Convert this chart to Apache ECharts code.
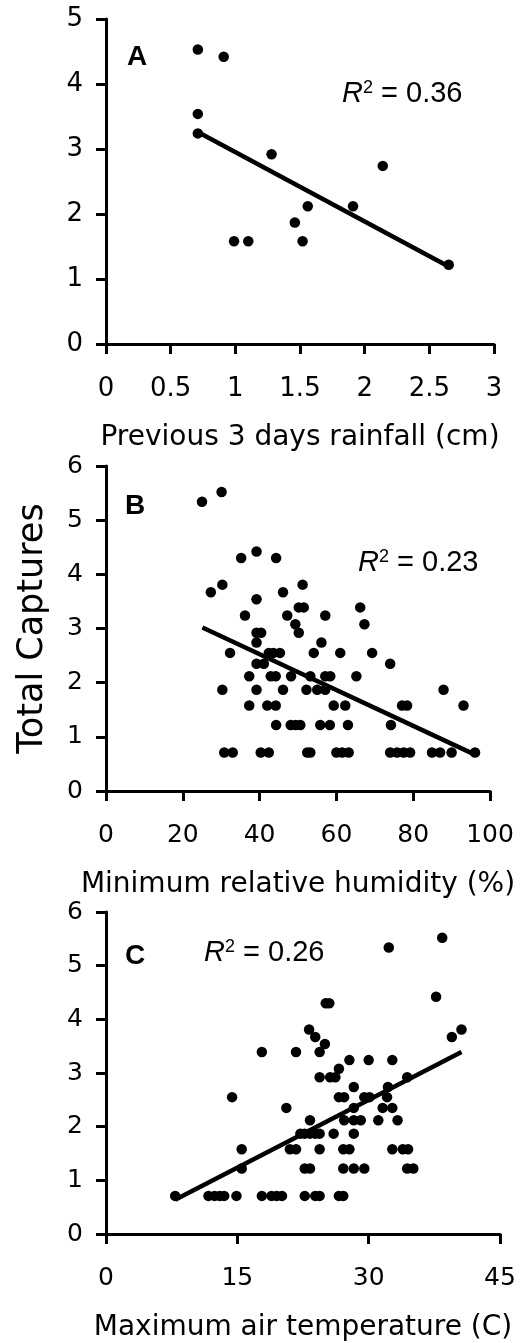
<!DOCTYPE html>
<html>
<head>
<meta charset="utf-8">
<script src="https://cdn.jsdelivr.net/npm/echarts@6/dist/echarts.min.js"></script>
<style>
    html, body { margin: 0; padding: 0; background: #fff; }
    #main { width: 529px; height: 1343px; }
</style>
</head>
<body>
<div id="main"></div>
<script>
// A: previous 3 days rainfall (cm)
var rainfall = [0.71, 0.91, 0.71, 0.71, 1.28, 2.14, 1.56, 1.91, 1.46, 0.99, 1.10, 1.52, 2.65];
var capturesA = [4.53, 4.42, 3.54, 3.24, 2.92, 2.74, 2.12, 2.12, 1.87, 1.58, 1.58, 1.58, 1.22];
var trendA = [[0.71, 3.26], [2.66, 1.18]];

// B: minimum relative humidity (%)
var humidity = [
    30.1, 25.0, 39.2, 35.2, 44.3,
    30.3, 51.2, 27.3, 46.1, 39.2,
    50.2, 51.5, 66.2, 36.2, 47.2, 57.1,
    49.3, 67.3, 39.2, 40.4, 50.2, 39.2, 56.1,
    32.3, 42.4, 43.6, 45.3, 54.1, 61.0, 69.3,
    39.2, 41.1, 74.0,
    37.3, 42.9, 44.2, 48.2, 53.2, 57.1, 58.4, 65.2,
    30.3, 39.2, 46.1, 52.2, 55.0, 57.1, 87.9,
    37.3, 42.0, 44.2, 59.3, 62.3, 77.1, 78.4, 93.1,
    44.3, 48.1, 49.4, 50.6, 55.8, 58.3, 63.0, 74.2,
    30.8, 33.0, 40.3, 42.4, 52.4, 53.2, 60.0, 61.5, 63.2, 74.0, 75.8, 77.5, 79.2, 84.9, 87.0, 90.0, 96.1
];
var capturesB = [
    5.52, 5.34, 4.42, 4.30, 4.30,
    3.81, 3.81, 3.67, 3.67, 3.54,
    3.39, 3.39, 3.39, 3.24, 3.24, 3.24,
    3.08, 3.08, 2.92, 2.92, 2.92, 2.74, 2.74,
    2.55, 2.55, 2.55, 2.55, 2.55, 2.55, 2.55,
    2.35, 2.35, 2.35,
    2.12, 2.12, 2.12, 2.12, 2.12, 2.12, 2.12, 2.12,
    1.87, 1.87, 1.87, 1.87, 1.87, 1.87, 1.87,
    1.58, 1.58, 1.58, 1.58, 1.58, 1.58, 1.58, 1.58,
    1.22, 1.22, 1.22, 1.22, 1.22, 1.22, 1.22, 1.22,
    0.71, 0.71, 0.71, 0.71, 0.71, 0.71, 0.71, 0.71, 0.71, 0.71, 0.71, 0.71, 0.71, 0.71, 0.71, 0.71, 0.71
];
var trendB = [[25.1, 3.02], [95.5, 0.69]];

// C: maximum air temperature (C)
var temperature = [
    38.4, 32.3, 37.7, 25.1, 25.5,
    23.2, 40.6, 23.9, 39.5, 25.0,
    17.8, 21.7, 24.4, 27.8, 30.0, 32.7,
    26.6, 24.4, 25.6, 26.2, 34.4, 28.3, 32.2,
    14.4, 26.6, 27.2, 29.5, 30.1, 32.1,
    20.6, 28.3, 31.6, 32.7,
    23.3, 27.2, 28.3, 29.1, 31.1, 33.3,
    22.2, 22.7, 23.3, 23.9, 24.4, 26.0, 28.3,
    15.5, 21.0, 21.7, 24.4, 27.1, 27.8, 32.7, 33.9, 34.5,
    15.5, 22.7, 23.3, 27.1, 28.3, 29.5, 34.4, 35.1,
    7.9, 11.7, 12.4, 13.0, 13.5, 14.9, 17.8, 18.9, 19.5, 20.1, 22.7, 23.9, 24.4, 26.6, 27.1
];
var capturesC = [
    5.52, 5.34, 4.42, 4.30, 4.30,
    3.81, 3.81, 3.67, 3.67, 3.54,
    3.39, 3.39, 3.39, 3.24, 3.24, 3.24,
    3.08, 2.92, 2.92, 2.92, 2.92, 2.74, 2.74,
    2.55, 2.55, 2.55, 2.55, 2.55, 2.55,
    2.35, 2.35, 2.35, 2.35,
    2.12, 2.12, 2.12, 2.12, 2.12, 2.12,
    1.87, 1.87, 1.87, 1.87, 1.87, 1.87, 1.87,
    1.58, 1.58, 1.58, 1.58, 1.58, 1.58, 1.58, 1.58, 1.58,
    1.22, 1.22, 1.22, 1.22, 1.22, 1.22, 1.22, 1.22,
    0.71, 0.71, 0.71, 0.71, 0.71, 0.71, 0.71, 0.71, 0.71, 0.71, 0.71, 0.71, 0.71, 0.71, 0.71
];
var trendC = [[7.9, 0.64], [40.6, 3.39]];

var axisFont = 'DejaVu Sans';
var noteFont = 'Liberation Sans';

function pairs(xs, ys) {
    return xs.map(function (x, i) {
        return [x, ys[i]];
    });
}

function xAx(idx, max, interval, name, labelSize) {
    return {
        type: 'value',
        gridIndex: idx,
        min: 0,
        max: max,
        interval: interval,
        name: name,
        nameLocation: 'middle',
        nameGap: 80,
        nameTextStyle: { fontFamily: axisFont, fontSize: 28, color: '#000' },
        axisLine: { show: true, onZero: false, lineStyle: { color: '#000', width: 3 } },
        axisTick: { show: true, length: 10, lineStyle: { color: '#000', width: 3 } },
        axisLabel: { margin: 32, fontFamily: axisFont, fontSize: labelSize, color: '#000' },
        splitLine: { show: false }
    };
}

function yAx(idx, max, labelSize) {
    return {
        type: 'value',
        gridIndex: idx,
        min: 0,
        max: max,
        interval: 1,
        axisLine: { show: true, onZero: false, lineStyle: { color: '#000', width: 3 } },
        axisTick: { show: true, length: 10, lineStyle: { color: '#000', width: 3 } },
        axisLabel: { margin: 23, fontFamily: axisFont, fontSize: labelSize, color: '#000' },
        splitLine: { show: false }
    };
}

function dots(idx, data) {
    return {
        type: 'scatter',
        xAxisIndex: idx,
        yAxisIndex: idx,
        data: data,
        symbolSize: 10.5,
        itemStyle: { color: '#000', opacity: 1 },
        z: 3
    };
}

function trend(idx, data) {
    return {
        type: 'line',
        xAxisIndex: idx,
        yAxisIndex: idx,
        data: data,
        symbol: 'none',
        lineStyle: { color: '#000', width: 4.5 },
        z: 2
    };
}

function letter(txt, x, y) {
    return {
        type: 'text',
        x: x,
        y: y,
        style: {
            text: txt,
            fontFamily: noteFont,
            fontWeight: 'bold',
            fontSize: 28,
            fill: '#000',
            verticalAlign: 'middle'
        }
    };
}

function rSquared(val, x, y) {
    return {
        type: 'text',
        x: x,
        y: y,
        style: {
            text: '{r|R}{s|2}{n| = ' + val + '}',
            verticalAlign: 'middle',
            fill: '#000',
            rich: {
                r: { fontFamily: noteFont, fontStyle: 'italic', fontSize: 29, fill: '#000' },
                s: { fontFamily: noteFont, fontSize: 18, verticalAlign: 'top', fill: '#000' },
                n: { fontFamily: noteFont, fontSize: 29, fill: '#000' }
            }
        }
    };
}

var chart = echarts.init(document.getElementById('main'));

var yB = yAx(1, 6, 25);
yB.name = 'Total Captures';
yB.nameLocation = 'middle';
yB.nameGap = 56;
yB.nameTextStyle = { fontFamily: axisFont, fontSize: 35, color: '#000' };

var option = {
    animation: false,
    backgroundColor: '#fff',
    grid: [
        { left: 106, top: 19, width: 388, height: 325 },
        { left: 106, top: 466, width: 384, height: 325 },
        { left: 106, top: 912, width: 394, height: 326 }
    ],
    xAxis: [
        xAx(0, 3, 0.5, 'Previous 3 days rainfall (cm)', 26),
        xAx(1, 100, 20, 'Minimum relative humidity (%)', 25),
        xAx(2, 45, 15, 'Maximum air temperature (C)', 25)
    ],
    yAxis: [
        yAx(0, 5, 26),
        yB,
        yAx(2, 6, 25)
    ],
    series: [
        dots(0, pairs(rainfall, capturesA)),
        trend(0, trendA),
        dots(1, pairs(humidity, capturesB)),
        trend(1, trendB),
        dots(2, pairs(temperature, capturesC)),
        trend(2, trendC)
    ],
    graphic: [
        letter('A', 127, 57),
        letter('B', 125, 506),
        letter('C', 125, 956),
        rSquared('0.36', 342, 94),
        rSquared('0.23', 358, 563),
        rSquared('0.26', 204, 953)
    ]
};

chart.setOption(option);
</script>
</body>
</html>
